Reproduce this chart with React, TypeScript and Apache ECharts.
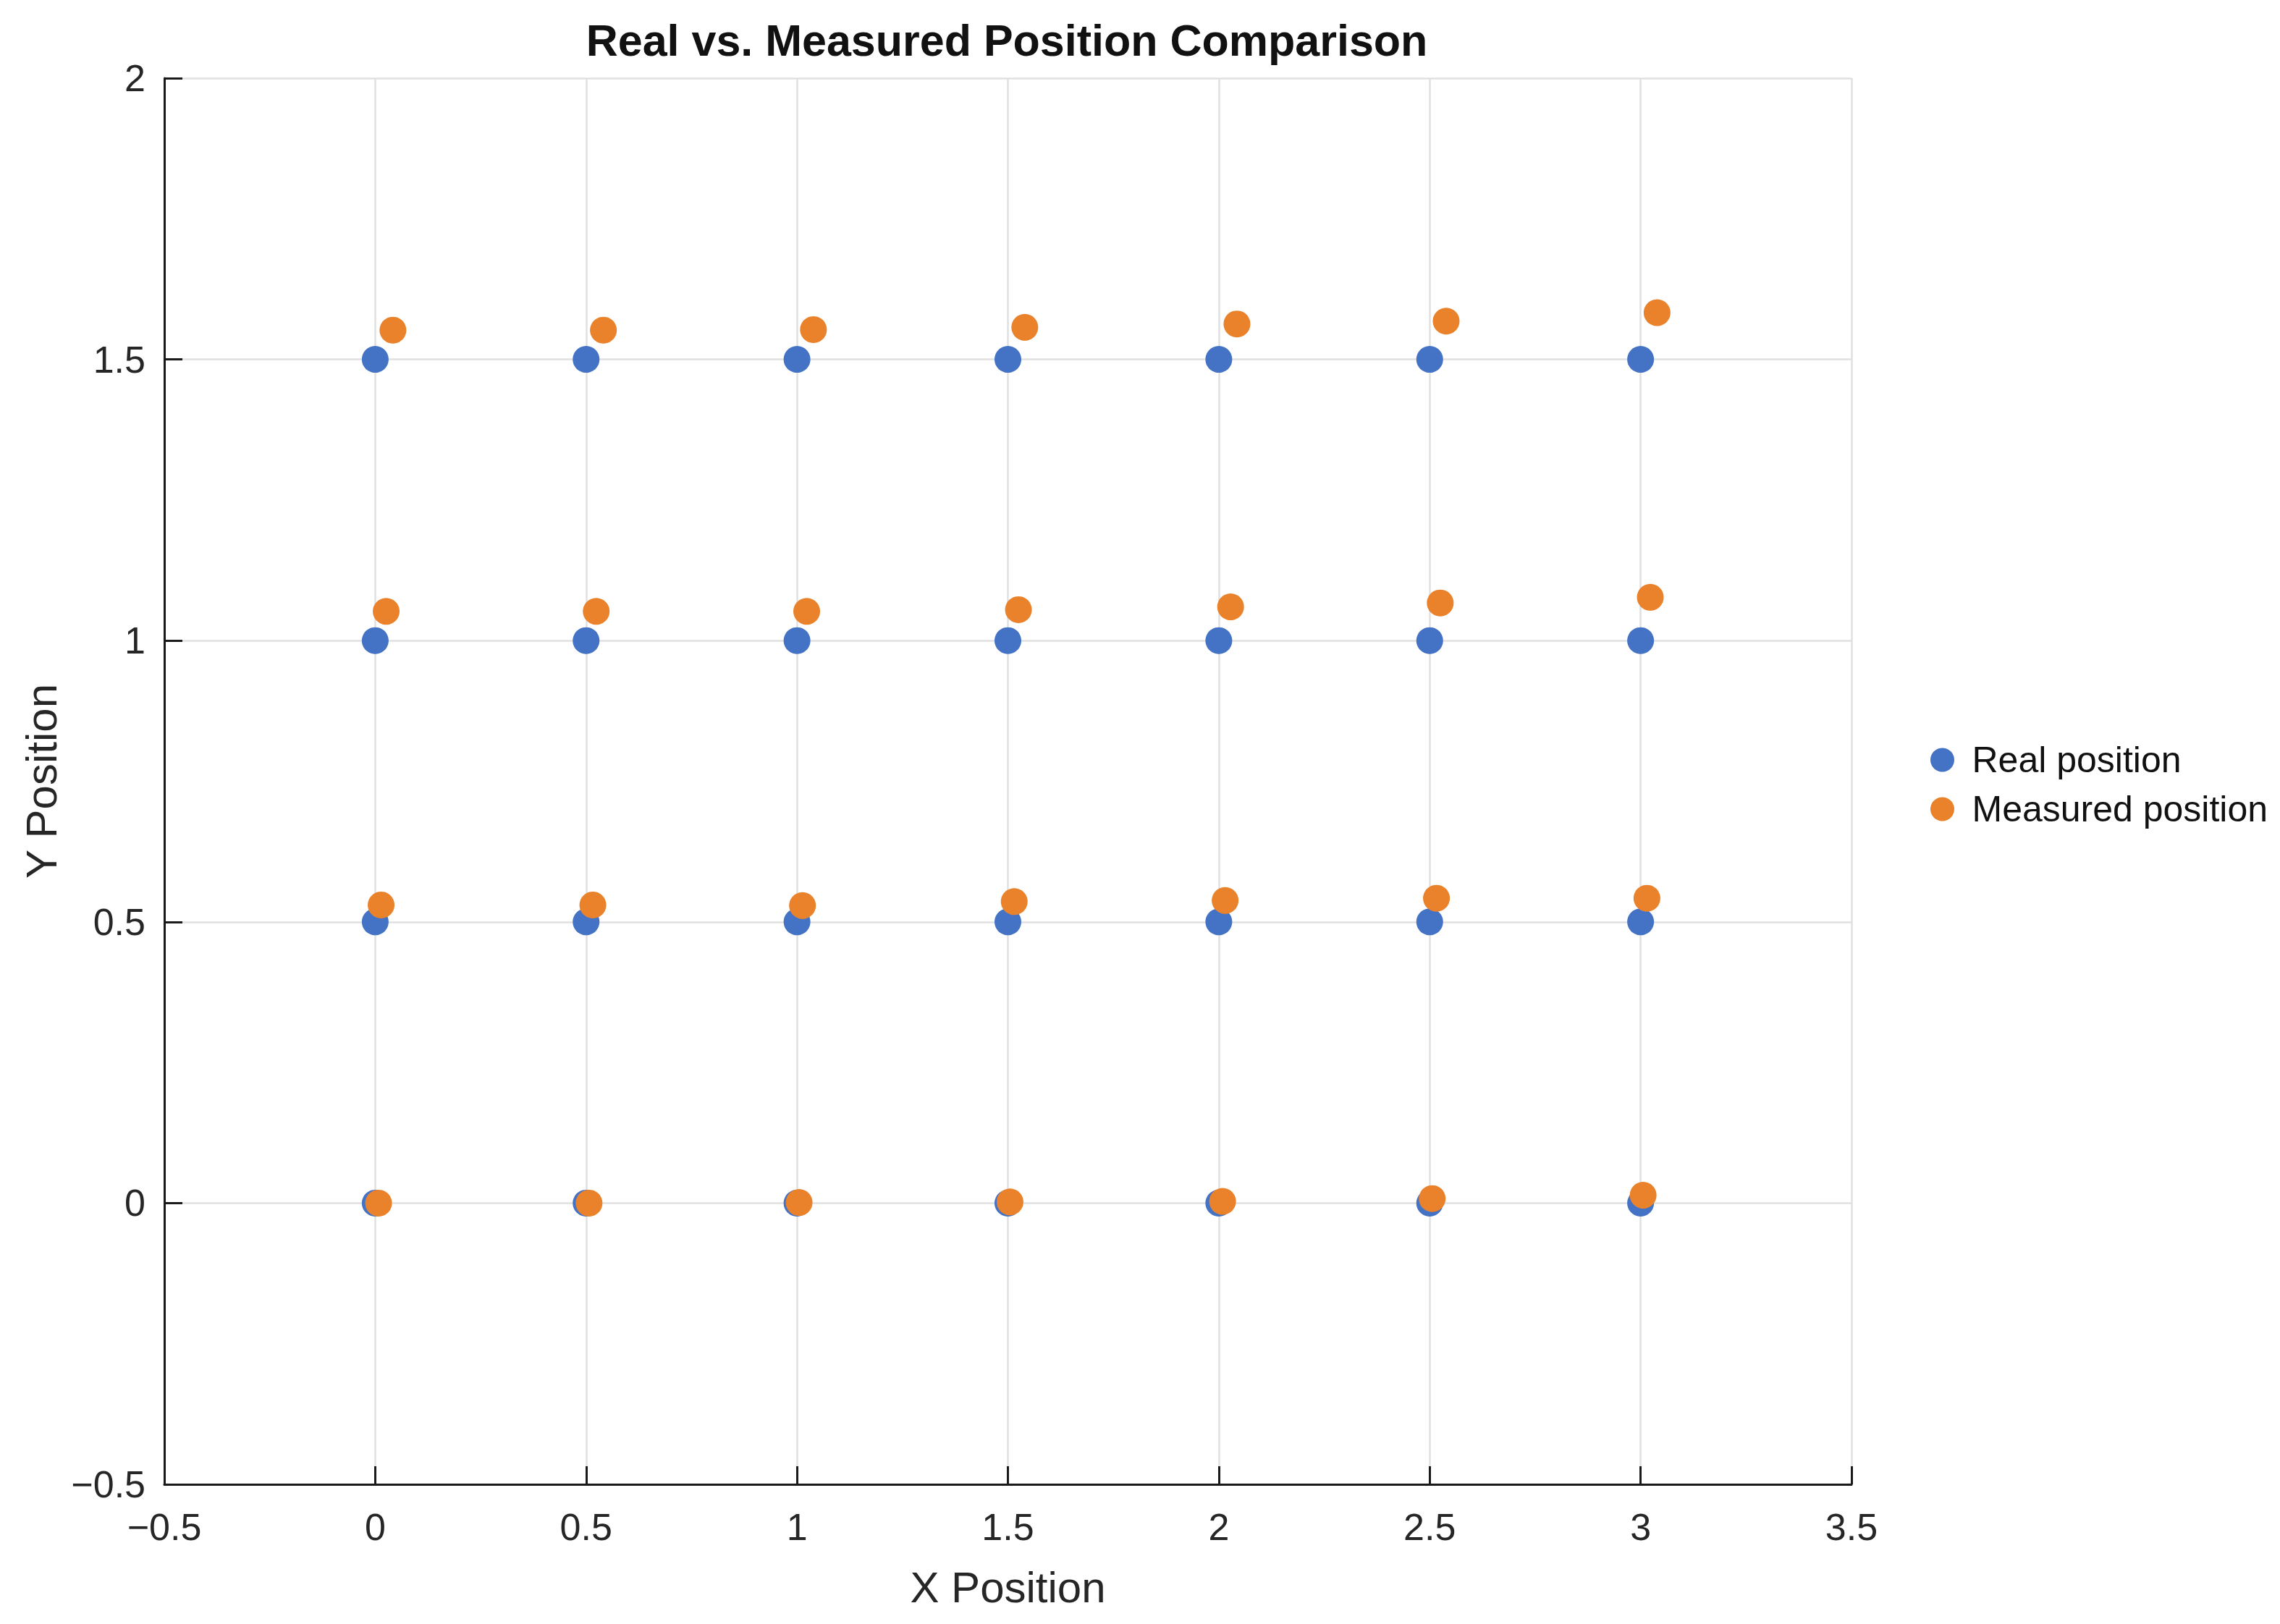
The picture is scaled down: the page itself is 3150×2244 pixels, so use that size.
import React, { useEffect, useRef } from "react";
import * as echarts from "echarts";

// Grid of reference positions (cartesian product of these coordinates)
const gridXs = [0, 0.5, 1, 1.5, 2, 2.5, 3];
const gridYs = [0, 0.5, 1, 1.5];

// Measured positions, row by row (y = 0, 0.5, 1, 1.5), x ascending
const measuredX = [
  0.008, 0.507, 1.005, 1.505, 2.009, 2.506, 3.006,
  0.014, 0.516, 1.013, 1.515, 2.015, 2.516, 3.015,
  0.026, 0.524, 1.023, 1.525, 2.028, 2.525, 3.023,
  0.042, 0.541, 1.039, 1.540, 2.043, 2.539, 3.039,
];
const measuredY = [
  0.000, 0.000, 0.001, 0.002, 0.003, 0.008, 0.014,
  0.530, 0.530, 0.529, 0.536, 0.538, 0.542, 0.542,
  1.052, 1.052, 1.052, 1.055, 1.060, 1.067, 1.077,
  1.552, 1.552, 1.553, 1.557, 1.563, 1.568, 1.583,
];

const axisTicks = { xMin: -0.5, xMax: 3.5, yMin: -0.5, yMax: 2, step: 0.5 };

const FONT = '"Liberation Sans", Arial, Helvetica, sans-serif';
const BLUE = "#4472C4";
const ORANGE = "#E9822B";

// Tick labels use a true minus sign for negative values
const fmtTick = (v: number) => (v < 0 ? "\u2212" + String(-v) : String(v));

export default function App() {
  const ref = useRef<HTMLDivElement>(null);

  useEffect(() => {
    document.body.style.margin = "0";
    document.body.style.overflow = "hidden";
    if (!ref.current) return;
    const chart = echarts.init(ref.current, null, { renderer: "svg" });

    const realData: number[][] = [];
    gridYs.forEach((y) => gridXs.forEach((x) => realData.push([x, y])));
    const measuredData = measuredX.map((x, i) => [x, measuredY[i]]);

    const axisCommon = {
      type: "value" as const,
      interval: axisTicks.step,
      axisLine: { show: true, onZero: false, lineStyle: { color: "#1a1a1a", width: 3 } },
      axisTick: { show: true, inside: true, length: 25, lineStyle: { color: "#1a1a1a", width: 3 } },
      splitLine: { show: true, lineStyle: { color: "#e0e0e0", width: 2.5 } },
      nameTextStyle: { fontFamily: FONT, fontSize: 60, color: "#262626" },
    };

    chart.setOption({
      animation: false,
      backgroundColor: "#ffffff",
      title: {
        text: "Real vs. Measured Position Comparison",
        left: 1386,
        top: 20,
        textAlign: "center",
        textStyle: { fontFamily: FONT, fontSize: 61, fontWeight: "bold", color: "#111111" },
      },
      grid: { left: 227, right: 592, top: 108, bottom: 193, containLabel: false },
      xAxis: {
        ...axisCommon,
        min: axisTicks.xMin,
        max: axisTicks.xMax,
        name: "X Position",
        nameLocation: "middle",
        nameGap: 112,
        axisLabel: { fontFamily: FONT, fontSize: 52, color: "#262626", margin: 33, formatter: fmtTick },
      },
      yAxis: {
        ...axisCommon,
        min: axisTicks.yMin,
        max: axisTicks.yMax,
        name: "Y Position",
        nameLocation: "middle",
        nameGap: 139,
        axisLabel: { fontFamily: FONT, fontSize: 52, color: "#262626", margin: 26, formatter: fmtTick },
      },
      legend: {
        orient: "vertical",
        left: 2662,
        top: 1020,
        icon: "circle",
        itemWidth: 72,
        itemHeight: 33,
        itemGap: 18,
        textStyle: { fontFamily: FONT, fontSize: 50, color: "#111111", lineHeight: 50 },
        data: ["Real position", "Measured position"],
      },
      series: [
        {
          name: "Real position",
          type: "scatter",
          symbol: "circle",
          symbolSize: 37,
          itemStyle: { color: BLUE, opacity: 1 },
          data: realData,
        },
        {
          name: "Measured position",
          type: "scatter",
          symbol: "circle",
          symbolSize: 37,
          itemStyle: { color: ORANGE, opacity: 1 },
          data: measuredData,
        },
      ],
    });

    return () => chart.dispose();
  }, []);

  return (
    <div
      ref={ref}
      style={{ position: "fixed", left: 0, top: 0, width: 3150, height: 2244, background: "#fff" }}
    />
  );
}
